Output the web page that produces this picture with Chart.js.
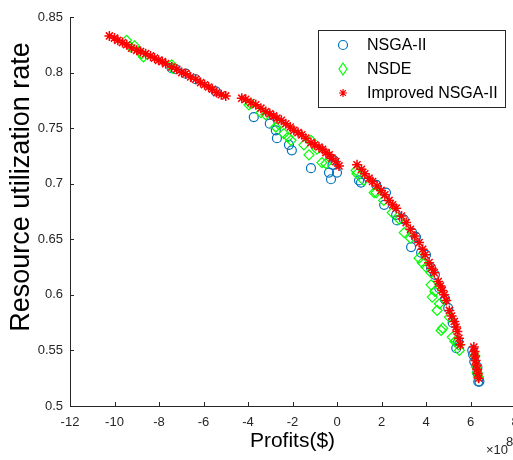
<!DOCTYPE html>
<html>
<head>
<meta charset="utf-8">
<script src="https://cdn.jsdelivr.net/npm/chart.js@4"></script>
<style>
  html, body { margin: 0; padding: 0; background: #fff; overflow: hidden; }
  #wrap { width: 540px; height: 460px; position: relative; }
</style>
</head>
<body>
<div id="wrap"><canvas id="graphique"></canvas></div>
<script>
// profits are in units of 1e8 $
const nsgaProfit = [-7.43, -7.25, -6.8, -6.35, -5.45,
  -3.74, -3.02, -2.75, -2.7, -2.16, -2.03, -1.17, -0.36, -0.27, -0.14, 0.0, -0.2,
  0.99, 1.08, 1.76, 2.2, 2.12, 2.66, 2.7, 3.0, 3.38, 3.33, 3.55, 3.78, 4.0, 4.23, 4.4, 4.6, 4.85, 5.0, 5.2, 5.36, 5.45,
  6.08, 6.12, 6.17, 6.31, 6.35, 6.4, 6.3];
const nsgaUtil = [0.804, 0.803, 0.799, 0.794, 0.783,
  0.760, 0.754, 0.748, 0.741, 0.735, 0.730, 0.714, 0.710, 0.704, 0.721, 0.710, 0.717,
  0.703, 0.701, 0.699, 0.692, 0.681, 0.672, 0.667, 0.668, 0.656, 0.643, 0.652, 0.638, 0.636, 0.624, 0.618, 0.606, 0.596, 0.588, 0.575, 0.552, 0.558,
  0.550, 0.546, 0.540, 0.535, 0.522, 0.522, 0.530];

const nsdeProfit = [-9.46, -9.28, -9.1, -8.78, -8.7, -7.43, -7.39,
  -3.96, -3.87, -3.42, -3.2, -2.75, -2.6, -2.39, -2.07, -2.2, -1.49, -1.26, -1.17, -0.9, -0.68, -0.5,
  0.86, 0.9, 1.2, 1.67, 1.76, 2.1, 2.48, 2.8, 3.02, 3.3, 3.69, 3.83, 4.0, 4.23, 4.23, 4.28, 4.4, 4.5, 4.6, 4.68, 4.75, 5.05, 5.18, 5.3, 5.5, 5.45,
  6.2, 6.26, 6.35, 6.3];
const nsdeUtil = [0.829, 0.823, 0.824, 0.817, 0.814, 0.807, 0.804,
  0.771, 0.772, 0.764, 0.762, 0.751, 0.753, 0.745, 0.739, 0.742, 0.735, 0.726, 0.739, 0.731, 0.719, 0.718,
  0.712, 0.709, 0.703, 0.692, 0.692, 0.685, 0.674, 0.668, 0.656, 0.651, 0.633, 0.629, 0.625, 0.620, 0.609, 0.598, 0.603, 0.586, 0.592, 0.568, 0.570, 0.580, 0.562, 0.558, 0.550, 0.555,
  0.545, 0.535, 0.526, 0.530];

const impProfit = [-10.23, -10.0, -9.85, -9.64, -9.45, -9.23, -9.0, -8.83, -8.6, -8.38, -8.2, -8.02, -7.85, -7.7, -7.43, -7.2, -6.98, -6.8, -6.58, -6.35, -6.13, -5.95, -5.77, -5.6, -5.41, -5.2, -5.0,
  -4.28, -4.1, -3.87, -3.65, -3.42, -3.2, -3.02, -2.85, -2.7, -2.5, -2.3, -2.1, -1.94, -1.75, -1.58, -1.4, -1.17, -1.0, -0.81, -0.65, -0.5, -0.35, -0.23, -0.05, 0.09,
  0.9, 1.1, 1.25, 1.44, 1.6, 1.8, 1.98, 2.15, 2.34, 2.5, 2.66, 2.9, 3.11, 3.3, 3.5, 3.69, 3.85, 3.96, 4.14, 4.25, 4.37, 4.55, 4.65, 4.73, 4.82, 4.91, 5.05, 5.15, 5.27, 5.35, 5.41, 5.48, 5.54,
  6.15, 6.18, 6.2, 6.23, 6.26, 6.3, 6.33, 6.37];
const impUtil = [0.833, 0.831, 0.829, 0.827, 0.825, 0.822, 0.820, 0.819, 0.817, 0.815, 0.813, 0.811, 0.810, 0.808, 0.805, 0.803, 0.800, 0.799, 0.796, 0.794, 0.791, 0.789, 0.787, 0.785, 0.782, 0.780, 0.779,
  0.777, 0.776, 0.773, 0.771, 0.768, 0.765, 0.763, 0.761, 0.759, 0.757, 0.754, 0.751, 0.748, 0.746, 0.744, 0.741, 0.737, 0.735, 0.733, 0.731, 0.728, 0.726, 0.723, 0.720, 0.716,
  0.717, 0.713, 0.709, 0.705, 0.702, 0.698, 0.694, 0.690, 0.685, 0.681, 0.678, 0.671, 0.665, 0.659, 0.653, 0.647, 0.641, 0.636, 0.629, 0.624, 0.620, 0.612, 0.608, 0.604, 0.600, 0.595, 0.586, 0.581, 0.576, 0.571, 0.567, 0.561, 0.555,
  0.553, 0.549, 0.545, 0.541, 0.537, 0.533, 0.529, 0.525];

const xTicks = [-12, -10, -8, -6, -4, -2, 0, 2, 4, 6, 8];
const yTicks = [0.5, 0.55, 0.6, 0.65, 0.7, 0.75, 0.8, 0.85];

const FONT = '"Liberation Sans", Arial, Helvetica, sans-serif';
const AXIS = '#262626';

function pts(xs, ys) {
  return xs.map((x, i) => ({ x: x, y: ys[i] }));
}

// matlab style extras: inward ticks, boxed legend, exponent, y label
const extras = {
  id: 'extras',
  afterDraw(chart) {
    const ctx = chart.ctx;
    const xs = chart.scales.x, ys = chart.scales.y;
    const a = chart.chartArea;
    ctx.save();
    ctx.strokeStyle = AXIS;
    ctx.lineWidth = 1;
    ctx.beginPath();
    xTicks.forEach(v => {
      const p = Math.round(xs.getPixelForValue(v)) + 0.5;
      ctx.moveTo(p, a.bottom);
      ctx.lineTo(p, a.bottom - 4);
    });
    yTicks.forEach(v => {
      const p = Math.round(ys.getPixelForValue(v)) + 0.5;
      ctx.moveTo(a.left, p);
      ctx.lineTo(a.left + 4, p);
    });
    ctx.stroke();

    // legend
    const lx = 318.5, ly = 30.5, lw = 187, lh = 77;
    ctx.fillStyle = '#fff';
    ctx.fillRect(lx, ly, lw, lh);
    ctx.strokeStyle = AXIS;
    ctx.strokeRect(lx, ly, lw, lh);
    const rows = [45, 69, 93];
    chart.data.datasets.forEach((ds, i) => {
      const cx = 343, cy = rows[i];
      ctx.strokeStyle = ds.borderColor;
      ctx.lineWidth = 1.2;
      ctx.beginPath();
      if (ds.pointStyle === 'circle') {
        ctx.arc(cx, cy, 4.5, 0, Math.PI * 2);
      } else if (ds.pointStyle === 'rectRot') {
        ctx.moveTo(cx, cy - 6); ctx.lineTo(cx + 4, cy); ctx.lineTo(cx, cy + 6); ctx.lineTo(cx - 4, cy); ctx.closePath();
      } else {
        for (let k = 0; k < 4; k++) {
          const ang = k * Math.PI / 4;
          ctx.moveTo(cx - 4 * Math.cos(ang), cy - 4 * Math.sin(ang));
          ctx.lineTo(cx + 4 * Math.cos(ang), cy + 4 * Math.sin(ang));
        }
      }
      ctx.stroke();
      ctx.fillStyle = '#000';
      ctx.font = '16px ' + FONT;
      ctx.textBaseline = 'middle';
      ctx.textAlign = 'left';
      ctx.fillText(ds.label, 367, cy + 1);
    });

    // exponent
    ctx.fillStyle = AXIS;
    ctx.textBaseline = 'alphabetic';
    ctx.font = '13px ' + FONT;
    ctx.fillText('\u00d710', 486, 454);
    ctx.fillText('8', 506, 446);

    // y label
    ctx.translate(22, 187);
    ctx.rotate(-Math.PI / 2);
    ctx.textAlign = 'center';
    ctx.textBaseline = 'middle';
    ctx.fillStyle = '#000';
    ctx.font = '27px ' + FONT;
    ctx.fillText('Resource utilization rate', 0, 0);
    ctx.restore();
  }
};

const ctx = document.getElementById('graphique');
new Chart(ctx, {
  type: 'scatter',
  data: {
    datasets: [{
      label: 'NSGA-II',
      data: pts(nsgaProfit, nsgaUtil),
      pointStyle: 'circle',
      pointRadius: 4.5,
      borderColor: '#0072BD',
      backgroundColor: 'rgba(0,0,0,0)',
      borderWidth: 1.2,
      order: 3
    }, {
      label: 'NSDE',
      data: pts(nsdeProfit, nsdeUtil),
      pointStyle: 'rectRot',
      pointRadius: 5,
      borderColor: '#00FF00',
      backgroundColor: 'rgba(0,0,0,0)',
      borderWidth: 1.2,
      order: 2
    }, {
      label: 'Improved NSGA-II',
      data: pts(impProfit, impUtil),
      pointStyle: 'star',
      pointRadius: 5,
      borderColor: '#FF0000',
      backgroundColor: 'rgba(0,0,0,0)',
      borderWidth: 1.5,
      order: 1
    }]
  },
  options: {
    responsive: true,
    maintainAspectRatio: false,
    animation: false,
    events: [],
    layout: { padding: { top: 17, right: 25, bottom: 0, left: 0 } },
    plugins: {
      legend: { display: false },
      tooltip: { enabled: false }
    },
    scales: {
      x: {
        type: 'linear',
        min: -12,
        max: 8,
        afterBuildTicks: s => { s.ticks = xTicks.map(v => ({ value: v })); },
        afterFit: s => { s.height = 54; },
        grid: { display: true, drawOnChartArea: false, drawTicks: false },
        border: { display: true, color: AXIS, width: 1 },
        ticks: {
          color: AXIS,
          padding: 9,
          maxRotation: 0,
          font: { family: FONT, size: 13 },
          callback: v => String(v)
        },
        title: {
          display: true,
          text: 'Profits($)',
          color: '#000',
          font: { family: FONT, size: 21 },
          padding: { top: 0, bottom: 6 }
        }
      },
      y: {
        type: 'linear',
        min: 0.5,
        max: 0.85,
        afterBuildTicks: s => { s.ticks = yTicks.map(v => ({ value: v })); },
        afterFit: s => { s.width = 70; },
        grid: { display: true, drawOnChartArea: false, drawTicks: false },
        border: { display: true, color: AXIS, width: 1 },
        ticks: {
          color: AXIS,
          padding: 7,
          font: { family: FONT, size: 13 },
          callback: v => String(Number(v.toFixed(2)))
        }
      }
    }
  },
  plugins: [extras]
});
</script>
</body>
</html>
